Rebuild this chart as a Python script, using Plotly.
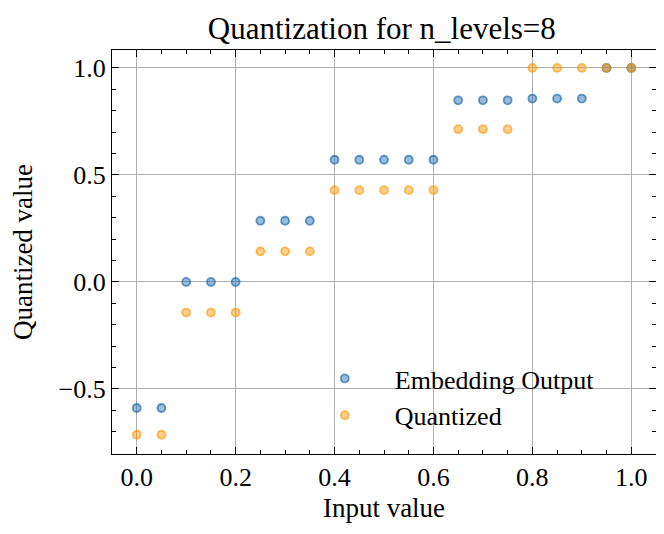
import plotly.graph_objects as go

x_vals = [0.0, 0.05, 0.1, 0.15, 0.2, 0.25, 0.3, 0.35, 0.4, 0.45, 0.5, 0.55, 0.6,
          0.65, 0.7, 0.75, 0.8, 0.85, 0.9, 0.95, 1.0]
embedding_output = [-0.589, -0.589, 0.0, 0.0, 0.0, 0.286, 0.286, 0.286,
                    0.571, 0.571, 0.571, 0.571, 0.571, 0.849, 0.849, 0.849,
                    0.857, 0.857, 0.857, 1.0, 1.0]
quantized = [-0.714, -0.714, -0.143, -0.143, -0.143, 0.143, 0.143, 0.143,
             0.429, 0.429, 0.429, 0.429, 0.429, 0.714, 0.714, 0.714,
             1.0, 1.0, 1.0, 1.0, 1.0]

FONT = "Liberation Serif"

fig = go.Figure()
fig.add_trace(go.Scatter(
    x=x_vals, y=embedding_output, mode="markers", name="Embedding Output",
    marker=dict(size=8, color="rgba(12,93,165,0.42)",
                line=dict(color="rgba(12,93,165,0.6)", width=1.8)),
))
fig.add_trace(go.Scatter(
    x=x_vals, y=quantized, mode="markers", name="Quantized",
    marker=dict(size=8, color="rgba(255,149,0,0.45)",
                line=dict(color="rgba(255,149,0,0.6)", width=1.8)),
))

axis_common = dict(
    showline=True, linecolor="black", linewidth=1.3, mirror="ticks",
    ticks="inside", ticklen=7, tickwidth=1, tickcolor="black",
    showgrid=True, gridcolor="#b0b0b0", gridwidth=1, zeroline=False,
    tickfont=dict(family=FONT, size=26, color="black"),
    automargin=False,
)

fig.update_xaxes(
    range=[-0.05, 1.05], tickvals=[0, 0.2, 0.4, 0.6, 0.8, 1.0],
    ticktext=["0.0", "0.2", "0.4", "0.6", "0.8", "1.0"],
    minor=dict(ticks="inside", ticklen=4, tickcolor="black", dtick=0.05, showgrid=False),
    title=dict(text="Input value", font=dict(family=FONT, size=27, color="black"), standoff=6),
    **axis_common,
)
fig.update_yaxes(
    range=[-0.804, 1.084], tickvals=[-0.5, 0.0, 0.5, 1.0],
    ticktext=["\u22120.5", "0.0", "0.5", "1.0"],
    minor=dict(ticks="inside", ticklen=4, tickcolor="black", dtick=0.1, tick0=0, showgrid=False),
    title=dict(text="Quantized value", font=dict(family=FONT, size=27, color="black"), standoff=20),
    **axis_common,
)

fig.update_layout(
    width=664, height=534,
    paper_bgcolor="white", plot_bgcolor="white",
    margin=dict(l=104, r=16, t=42, b=88),
    title=dict(text="Quantization for n_levels=8", x=0.563, xanchor="center",
               y=0.962, yanchor="middle",
               font=dict(family=FONT, size=31, color="black")),
    legend=dict(x=0.336, y=0.245, xanchor="left", yanchor="top",
                bgcolor="rgba(0,0,0,0)", borderwidth=0, itemwidth=90,
                font=dict(family=FONT, size=26, color="black")),
    showlegend=True,
)

fig.write_html("out.html")
